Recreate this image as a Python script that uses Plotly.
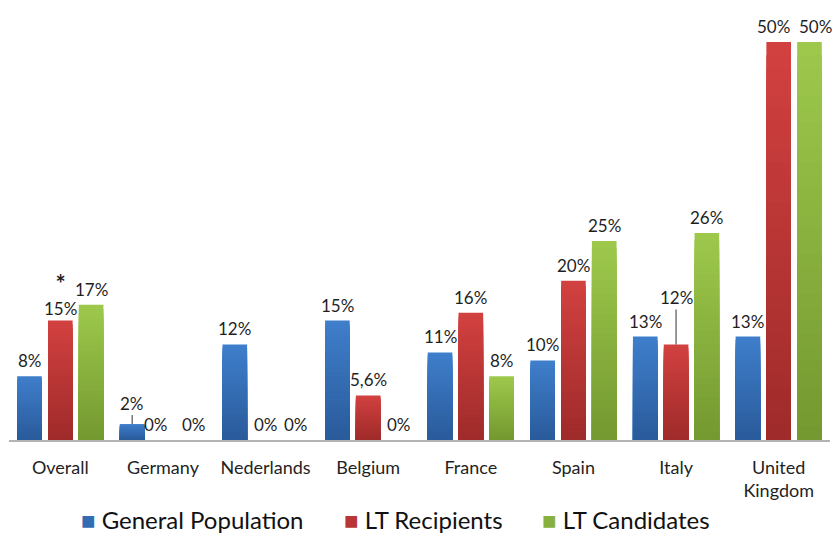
import plotly.graph_objects as go

# Categories and values (percent)
countries = ["Overall", "Germany", "Nederlands", "Belgium", "France", "Spain", "Italy", "United<br>Kingdom"]
general_population = [8, 2, 12, 15, 11, 10, 13, 13]
lt_recipients = [15, 0, 0, 5.6, 16, 20, 12, 50]
lt_candidates = [17, 0, 0, 0, 8, 25, 26, 50]

label_general = ["8%", "2%", "12%", "15%", "11%", "10%", "13%", "13%"]
label_recipients = ["15%", "0%", "0%", "5,6%", "16%", "20%", "12%", "50%"]
label_candidates = ["17%", "0%", "0%", "0%", "8%", "25%", "26%", "50%"]

series = [
    ("General Population", general_population, label_general, (0x3f, 0x7e, 0xcb), (0x2a, 0x5b, 0x9b)),
    ("LT Recipients", lt_recipients, label_recipients, (0xd1, 0x41, 0x40), (0x9f, 0x2b, 0x2a)),
    ("LT Candidates", lt_candidates, label_candidates, (0x9d, 0xc8, 0x4c), (0x74, 0x99, 0x30)),
]

SLOT = 0.30      # distance between bar centres inside a group (x units)
BAR_W = 0.24     # bar width (x units)
N_STEPS = 30     # gradient layers per series
TEXT = "#1f1f1f"
FONT = "Lato"
LABEL_SIZE = 17

# per-label nudges (px) where neighbouring labels would collide
label_nudge_x = {("Germany", "LT Recipients"): -7,
                 ("United<br>Kingdom", "LT Recipients"): -5,
                 ("United<br>Kingdom", "LT Candidates"): 6}
label_nudge_y = {("Overall", "LT Recipients"): -3}
# significance marker shown above the overall LT Recipients value
starred = {("Overall", "LT Recipients")}

xpos = list(range(len(countries)))
fig = go.Figure()


def mix(c1, c2, t):
    return "rgb(%d,%d,%d)" % tuple(round(a + (b - a) * t) for a, b in zip(c1, c2))


for si, (name, vals, labels, top_c, bot_c) in enumerate(series):
    centre = (si - 1) * SLOT
    # layers drawn in place: each shorter layer is a little darker,
    # giving a top-to-bottom vertical gradient on every bar
    for k in range(N_STEPS):
        frac = (N_STEPS - k) / N_STEPS
        fig.add_trace(go.Bar(
            x=xpos,
            y=[v * frac for v in vals],
            width=BAR_W,
            offset=centre - BAR_W / 2,
            marker=dict(color=mix(top_c, bot_c, k / (N_STEPS - 1)), line=dict(width=0)),
            name=name,
            showlegend=False,
            hoverinfo="skip",
        ))

    for ci, (v, lab) in enumerate(zip(vals, labels)):
        x = ci + centre
        key = (countries[ci], name)
        font = dict(size=LABEL_SIZE, color=TEXT, family=FONT)
        if key in starred:
            lab = "<span style='font-size:24px'><b>*</b></span><br>" + lab
        if key == ("Italy", "LT Recipients"):
            fig.add_annotation(x=x, y=v, text=lab, showarrow=True, arrowhead=0,
                               arrowwidth=1, arrowcolor="#333333", ax=0, ay=-47,
                               standoff=0, font=font)
        elif key == ("Germany", "General Population"):
            fig.add_annotation(x=x, y=v, text=lab, showarrow=True, arrowhead=0,
                               arrowwidth=1, arrowcolor="#333333", ax=0, ay=-21,
                               standoff=0, font=font)
        else:
            fig.add_annotation(x=x, y=v, text=lab, showarrow=False, yanchor="bottom",
                               yshift=3 + label_nudge_y.get(key, 0),
                               xshift=label_nudge_x.get(key, 0), font=font)

# legend row under the category labels: coloured square + series name
legend_x = [79, 342, 540]   # left edge of each legend entry (px)
PLOT_L, PLOT_W, PLOT_H = 9, 821, 440
for (name, _, _, top_c, bot_c), lx in zip(series, legend_x):
    fig.add_annotation(xref="paper", yref="paper",
                       x=(lx - PLOT_L) / PLOT_W, y=(PLOT_H - 519) / PLOT_H,
                       xanchor="left", yanchor="middle", showarrow=False,
                       text="<span style='color:%s'>■</span> %s" % (mix(top_c, bot_c, 0.5), name),
                       font=dict(size=24, color="#111111", family=FONT))

fig.update_layout(
    width=833, height=533,
    margin=dict(l=PLOT_L, r=3, t=0, b=533 - PLOT_H),
    barmode="overlay",
    plot_bgcolor="white", paper_bgcolor="white",
    showlegend=False,
    xaxis=dict(tickvals=xpos, ticktext=countries, range=[-0.5, 7.5], showgrid=False,
               showline=True, linecolor="#b3b3b3", linewidth=2, ticks="",
               ticklabelstandoff=10, zeroline=False,
               tickfont=dict(size=18, color=TEXT, family=FONT)),
    yaxis=dict(range=[0, 55.28], visible=False, showgrid=False),
)

fig.write_html("out.html")
